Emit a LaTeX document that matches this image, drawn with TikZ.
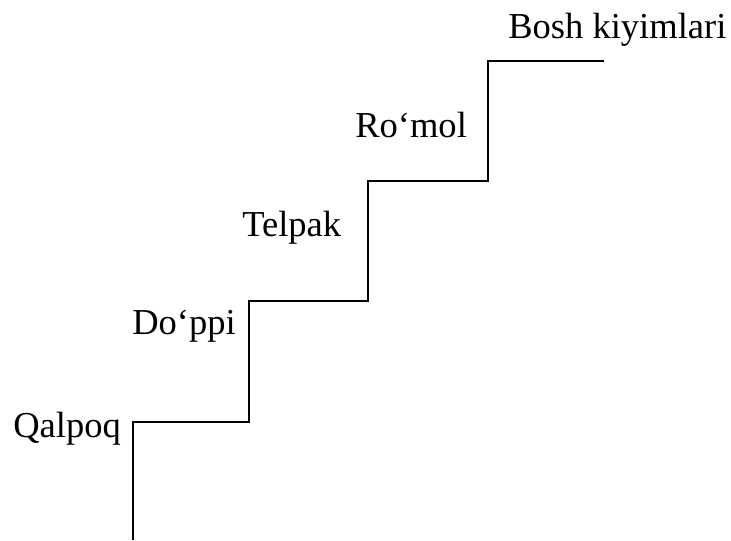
\documentclass[tikz,border=0pt]{standalone}
\usepackage{fontspec}
\setmainfont{Liberation Serif}
\begin{document}
\begin{tikzpicture}[x=0.75pt,y=-0.75pt,
  lbl/.style={anchor=base west,inner sep=0pt,font=\fontsize{27.4}{30}\selectfont},
  stair/.style={line width=1.5pt,line join=miter}]
\useasboundingbox (0,0) rectangle (731,540);
\coordinate (p0) at (133,540);
\coordinate (p1) at (133,421.5);
\coordinate (p2) at (249,421.5);
\coordinate (p3) at (249,300.5);
\coordinate (p4) at (367.5,300.5);
\coordinate (p5) at (367.5,181);
\coordinate (p6) at (487.5,181);
\coordinate (p7) at (487.5,60.5);
\coordinate (p8) at (604,60.5);
\draw[stair] (p0) -- (p1) -- (p2) -- (p3) -- (p4) -- (p5) -- (p6) -- (p7) -- (p8);
\node[lbl] (q) at (13,437) {Qalpoq};
\node[lbl] (d) at (132,334) {Do‘ppi};
\node[lbl] (t) at (242,236) {Telpak};
\node[lbl] (r) at (355,137) {Ro‘mol};
\node[lbl] (b) at (508,38) {Bosh kiyimlari};
\end{tikzpicture}
\end{document}
